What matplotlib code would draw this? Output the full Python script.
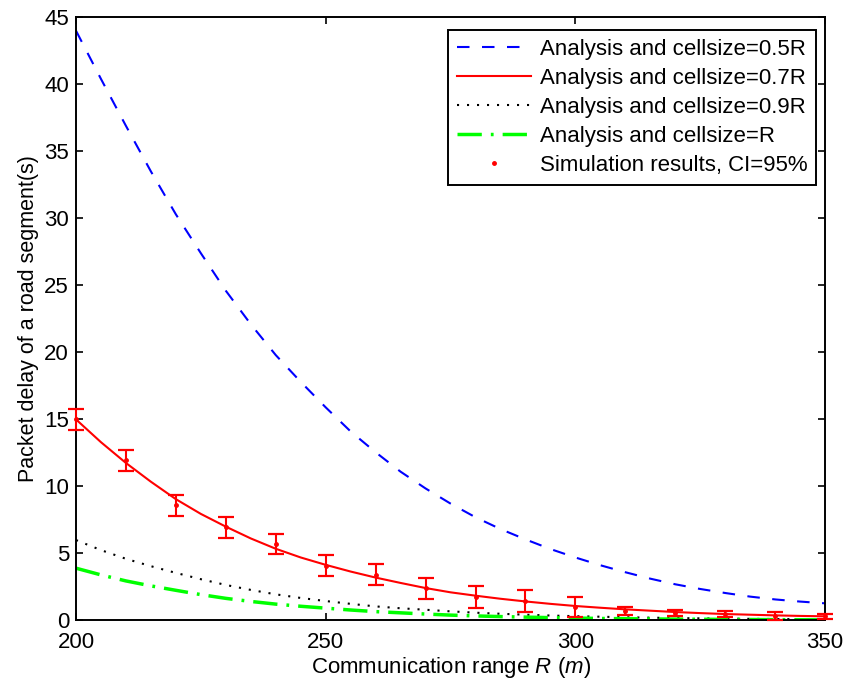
import matplotlib
matplotlib.use("Agg")
from matplotlib import pyplot as plt

plt.rcParams['font.family'] = ['Liberation Sans', 'DejaVu Sans']
plt.rcParams['mathtext.fontset'] = 'custom'
plt.rcParams['mathtext.rm'] = 'Liberation Sans'
plt.rcParams['mathtext.it'] = 'Liberation Sans:italic'

# communication range (m) for the analysis curves
r_analysis = [200, 205, 210, 215, 220, 225, 230, 235, 240, 245, 250, 255, 260, 265, 270,
              275, 280, 285, 290, 295, 300, 305, 310, 315, 320, 325, 330, 335, 340, 345, 350]

delay_05 = [44.0, 40.4, 36.9, 33.5, 30.3, 27.4, 24.6, 22.1, 19.8, 17.8, 15.9, 14.1, 12.55, 11.1, 9.85,
            8.72, 7.7, 6.82, 6.05, 5.33, 4.7, 4.12, 3.6, 3.12, 2.7, 2.35, 2.05, 1.78, 1.57, 1.41, 1.28]
delay_07 = [15.0, 13.3, 11.75, 10.35, 9.05, 7.95, 7.0, 6.12, 5.35, 4.7, 4.15, 3.65, 3.2, 2.8, 2.42,
            2.1, 1.85, 1.62, 1.42, 1.24, 1.08, 0.95, 0.83, 0.73, 0.63, 0.55, 0.48, 0.43, 0.38, 0.34, 0.31]
delay_09 = [6.0, 5.25, 4.6, 4.05, 3.55, 3.08, 2.65, 2.28, 1.95, 1.68, 1.45, 1.24, 1.05, 0.91, 0.8,
            0.68, 0.58, 0.5, 0.43, 0.37, 0.32, 0.28, 0.24, 0.21, 0.18, 0.16, 0.14, 0.12, 0.11, 0.1, 0.09]
delay_10 = [3.9, 3.4, 2.95, 2.58, 2.25, 1.93, 1.65, 1.42, 1.22, 1.06, 0.92, 0.78, 0.66, 0.57, 0.48,
            0.4, 0.34, 0.29, 0.25, 0.21, 0.18, 0.15, 0.13, 0.115, 0.1, 0.09, 0.08, 0.07, 0.06, 0.055, 0.05]

# simulation results with 95% confidence intervals
r_sim = [200, 210, 220, 230, 240, 250, 260, 270, 280, 290, 300, 310, 320, 330, 340, 350]
delay_sim = [15.0, 11.95, 8.6, 6.95, 5.7, 4.1, 3.4, 2.4, 1.75, 1.45, 1.0, 0.7, 0.55, 0.45, 0.35, 0.3]
ci_sim = [0.8, 0.77, 0.77, 0.8, 0.76, 0.8, 0.78, 0.8, 0.82, 0.8, 0.77, 0.28, 0.25, 0.22, 0.28, 0.2]

fig = plt.figure(figsize=(8.58, 6.85), dpi=100)
ax = fig.add_axes([0.0886, 0.0942, 0.873, 0.8805])

ax.plot(r_analysis, delay_05, color='#0000ff', lw=1.5, linestyle=(0, (6, 6)),
        label='Analysis and cellsize=0.5R')
ax.plot(r_analysis, delay_07, color='#ff0000', lw=1.5, label='Analysis and cellsize=0.7R')
ax.plot(r_analysis, delay_09, color='black', lw=1.5, linestyle=(0, (1, 3.8)),
        label='Analysis and cellsize=0.9R')
ax.plot(r_analysis, delay_10, color='#00ff00', lw=2.5, linestyle=(0, (7, 2.6, 0.8, 2.6)),
        label='Analysis and cellsize=R')
ax.errorbar(r_sim, delay_sim, yerr=ci_sim, fmt='none', ecolor='#ff0000', elinewidth=1.5,
            capsize=5.5, capthick=1.6, clip_on=False, zorder=3)
ax.plot(r_sim, delay_sim, '.', color='#ff0000', markersize=5, linestyle='none',
        label='Simulation results, CI=95%', clip_on=False, zorder=4)

ax.set_xlim(200, 350)
ax.set_ylim(0, 45)
ax.set_xticks([200, 250, 300, 350])
ax.set_yticks(range(0, 46, 5))
ax.tick_params(direction='in', length=5, width=1.2, top=True, right=True, labelsize=16)
ax.tick_params(axis='x', pad=8)
ax.tick_params(axis='y', pad=5)
for s in ax.spines.values():
    s.set_linewidth(1.4)

ax.set_xlabel('Communication range $R$ $\\mathit{(m)}$', fontsize=16, labelpad=2)
ax.set_ylabel('Packet delay of a road segment(s)', fontsize=15.5)

leg = ax.legend(loc='upper right', bbox_to_anchor=(0.988, 0.979), fontsize=16,
                handlelength=3.3, labelspacing=0.36, borderpad=0.4, handletextpad=0.4,
                fancybox=False, framealpha=1, edgecolor='black', borderaxespad=0)
leg.get_frame().set_linewidth(1.4)

fig.savefig('out.png', dpi=100)
